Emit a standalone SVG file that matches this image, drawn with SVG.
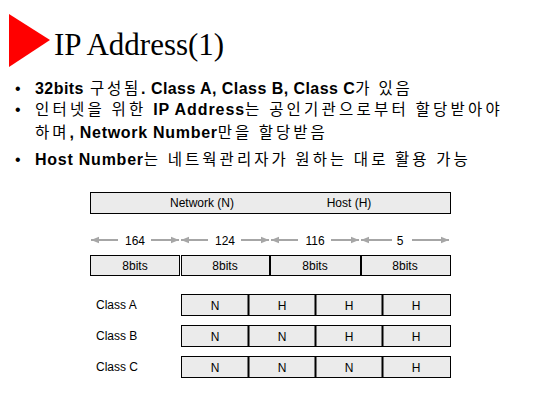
<svg xmlns="http://www.w3.org/2000/svg" width="540" height="400" viewBox="0 0 540 400">
<style>
.t{font-family:"Liberation Sans",Arial,sans-serif;font-size:12px;fill:#000;}
.c{text-anchor:middle;}
.b{font-family:"Liberation Sans","Noto Sans CJK KR",sans-serif;font-size:16px;fill:#000;}
.k{font-family:"Noto Sans CJK KR",sans-serif;font-weight:normal;font-size:15.5px;letter-spacing:2.3px;}
.bo{font-weight:bold;}
.box{fill:#ebebeb;stroke:#000;stroke-width:1;}
.arr{stroke:#a6a6a6;stroke-width:2;fill:none;marker-end:url(#ah);}
</style>
<defs>
<marker id="ah" viewBox="0 0 10 10" refX="10" refY="5" markerWidth="4" markerHeight="4" orient="auto" markerUnits="strokeWidth">
<path d="M0,1 L10,5 L0,9 Z" fill="#a6a6a6"/>
</marker>
</defs>
<rect width="540" height="400" fill="#fff"/>
<g id="title">
<polygon points="9,14 50,40 9,67" fill="#ff0000"/>
<text x="54" y="55" font-family="'Liberation Serif','Times New Roman',serif" font-size="31" fill="#000">IP Address(1)</text>
</g>
<g id="bullets">
<text class="b" x="15" y="94">•</text>
<text class="b" x="35" y="94" textLength="377" lengthAdjust="spacing"><tspan class="bo">32bits</tspan><tspan class="k"> 구성됨</tspan><tspan class="bo">. Class A, Class B, Class C</tspan><tspan class="k">가 있음</tspan></text>
<text class="b" x="15" y="115">•</text>
<text class="b" x="35" y="115" textLength="467" lengthAdjust="spacing"><tspan class="k">인터넷을 위한 </tspan><tspan class="bo">IP Address</tspan><tspan class="k">는 공인기관으로부터 할당받아야</tspan></text>
<text class="b" x="35" y="138" textLength="292" lengthAdjust="spacing"><tspan class="k">하며</tspan><tspan class="bo">, Network Number</tspan><tspan class="k">만을 할당받음</tspan></text>
<text class="b" x="15" y="165">•</text>
<text class="b" x="35" y="165" textLength="435" lengthAdjust="spacing"><tspan class="bo">Host Number</tspan><tspan class="k">는 네트웍관리자가 원하는 대로 활용 가능</tspan></text>
</g>
<g id="header">
<rect class="box" x="90.5" y="192.5" width="360" height="21"/>
<text class="t c" x="202" y="207">Network (N)</text>
<text class="t c" x="349" y="207">Host (H)</text>
</g>
<g id="connectors">
<line class="arr" x1="118" y1="240" x2="91" y2="240"/>
<line class="arr" x1="151" y1="240" x2="179" y2="240"/>
<line class="arr" x1="208" y1="240" x2="181" y2="240"/>
<line class="arr" x1="241" y1="240" x2="269" y2="240"/>
<line class="arr" x1="298" y1="240" x2="271" y2="240"/>
<line class="arr" x1="331" y1="240" x2="359" y2="240"/>
<line class="arr" x1="392" y1="240" x2="361" y2="240"/>
<line class="arr" x1="412" y1="240" x2="449" y2="240"/>
</g>
<g id="counts">
<text class="t c" x="135" y="244.5">164</text>
<text class="t c" x="225" y="244.5">124</text>
<text class="t c" x="315" y="244.5">116</text>
<text class="t c" x="400" y="244.5">5</text>
</g>
<g id="octets">
<rect class="box" x="90.5" y="255.5" width="89" height="20"/>
<rect class="box" x="181.5" y="255.5" width="88" height="20"/>
<rect class="box" x="270.5" y="255.5" width="90" height="20"/>
<rect class="box" x="361.5" y="255.5" width="89" height="20"/>
<text class="t c" x="135" y="270">8bits</text>
<text class="t c" x="225" y="270">8bits</text>
<text class="t c" x="315" y="270">8bits</text>
<text class="t c" x="405" y="270">8bits</text>
</g>
<g id="classA">
<text class="t" x="96" y="309">Class A</text>
<rect class="box" x="181.5" y="294.5" width="269" height="21"/>
<path d="M248.5,294.5V315.5M315.5,294.5V315.5M382.5,294.5V315.5" stroke="#000" stroke-width="2"/>
<text class="t c" x="215" y="309.5">N</text>
<text class="t c" x="282" y="309.5">H</text>
<text class="t c" x="349" y="309.5">H</text>
<text class="t c" x="416" y="309.5">H</text>
</g>
<g id="classB">
<text class="t" x="96" y="340">Class B</text>
<rect class="box" x="181.5" y="325.5" width="269" height="21"/>
<path d="M248.5,325.5V346.5M315.5,325.5V346.5M382.5,325.5V346.5" stroke="#000" stroke-width="2"/>
<text class="t c" x="215" y="340.5">N</text>
<text class="t c" x="282" y="340.5">N</text>
<text class="t c" x="349" y="340.5">H</text>
<text class="t c" x="416" y="340.5">H</text>
</g>
<g id="classC">
<text class="t" x="96" y="371">Class C</text>
<rect class="box" x="181.5" y="356.5" width="269" height="21"/>
<path d="M248.5,356.5V377.5M315.5,356.5V377.5M382.5,356.5V377.5" stroke="#000" stroke-width="2"/>
<text class="t c" x="215" y="371.5">N</text>
<text class="t c" x="282" y="371.5">N</text>
<text class="t c" x="349" y="371.5">N</text>
<text class="t c" x="416" y="371.5">H</text>
</g>
</svg>
